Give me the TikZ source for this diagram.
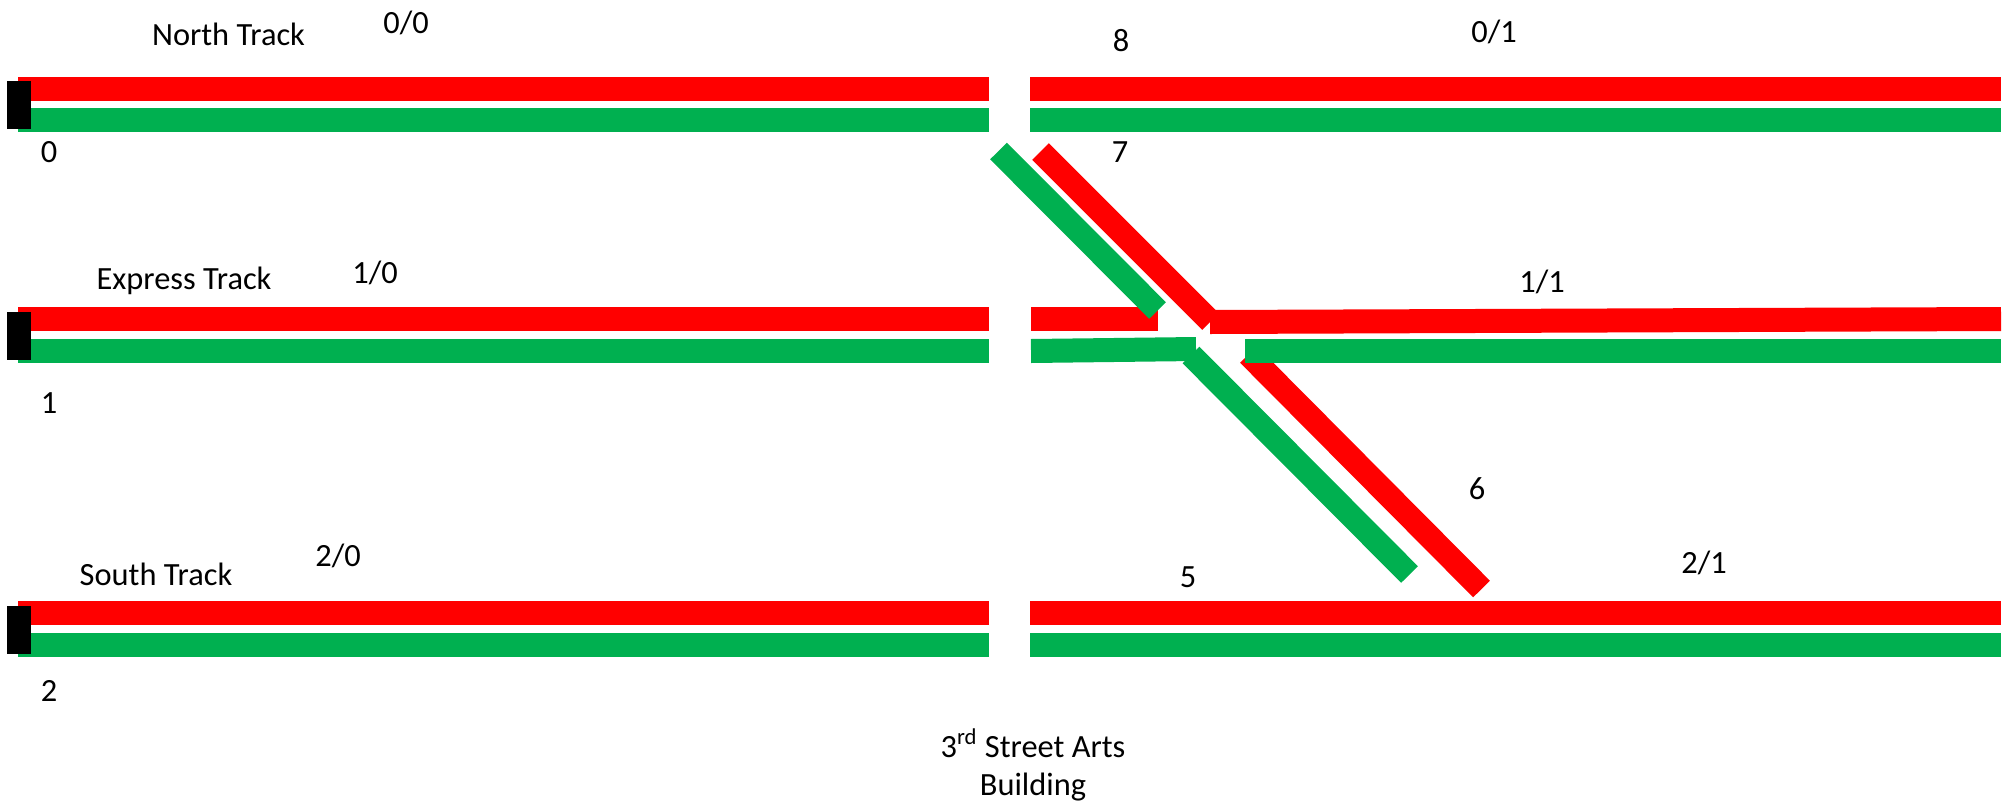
\documentclass[tikz,border=0pt]{standalone}
\usepackage{fontspec}
\setmainfont{Carlito}
\usepackage{tikz}
\usetikzlibrary{positioning}
\definecolor{trackred}{HTML}{FF0000}
\definecolor{trackgreen}{HTML}{00B050}
\tikzset{
  redrail/.style={draw=trackred, line width=12pt},
  greenrail/.style={draw=trackgreen, line width=12pt},
  diagred/.style={draw=trackred, line width=11.8pt},
  diaggreen/.style={draw=trackgreen, line width=11.8pt},
  bumper/.style={rectangle, fill=black, minimum width=12pt, minimum height=24pt, inner sep=0pt},
  tracklabel/.style={anchor=base, inner sep=0pt, font=\fontsize{16.2}{18.8}\selectfont, align=center},
}
\begin{document}
\begin{tikzpicture}[x=0.5pt, y=-0.5pt]
\useasboundingbox (0,0) rectangle (2007,809);

% Rail end points
\coordinate (nrl) at (18,88.5);  \coordinate (nrm) at (989,88.5);
\coordinate (nrn) at (1030,88.5); \coordinate (nrr) at (2001,88.5);
\coordinate (ngl) at (18,120);   \coordinate (ngm) at (989,120);
\coordinate (ngn) at (1030,120); \coordinate (ngr) at (2001,120);
\coordinate (erl) at (18,319);   \coordinate (erm) at (989,319);
\coordinate (ern) at (1031,319); \coordinate (ere) at (1158,319);
\coordinate (erx) at (1210,322); \coordinate (err) at (2001,319);
\coordinate (egl) at (18,351);   \coordinate (egm) at (989,351);
\coordinate (egn) at (1031,351); \coordinate (ege) at (1196,349);
\coordinate (egx) at (1245,351); \coordinate (egr) at (2001,351);
\coordinate (srl) at (18,613);   \coordinate (srm) at (989,613);
\coordinate (srn) at (1030,613); \coordinate (srr) at (2001,613);
\coordinate (sgl) at (18,645);   \coordinate (sgm) at (989,645);
\coordinate (sgn) at (1030,645); \coordinate (sgr) at (2001,645);

% Crossover
\coordinate (ua) at (1040.5,151.5); \coordinate (ub) at (1210.5,321.5);
\coordinate (uc) at (998.5,151);    \coordinate (ud) at (1157.5,310.5);
\coordinate (la) at (1248.5,354.5); \coordinate (lb) at (1481.5,589);
\coordinate (lc) at (1191,355);     \coordinate (ld) at (1409.5,574.5);

% Left rails
\draw[redrail] (nrl) -- (nrm);
\draw[greenrail] (ngl) -- (ngm);
\draw[redrail] (erl) -- (erm);
\draw[greenrail] (egl) -- (egm);
\draw[redrail] (srl) -- (srm);
\draw[greenrail] (sgl) -- (sgm);

% Right rails
\draw[redrail] (nrn) -- (nrr);
\draw[greenrail] (ngn) -- (ngr);
\draw[redrail] (ern) -- (ere);
\draw[redrail] (srn) -- (srr);
\draw[greenrail] (sgn) -- (sgr);

% Diagonals
\draw[diagred] (ua) -- (ub);
\draw[diaggreen] (uc) -- (ud);
\draw[diagred] (la) -- (lb);
\draw[diaggreen] (lc) -- (ld);
\draw[redrail] (erx) -- (err);
\draw[greenrail] (egn) -- (ege);
\draw[greenrail] (egx) -- (egr);

% Bumpers
\node[bumper] (bumpn) at (19,105) {};
\node[bumper] (bumpe) at (19,336) {};
\node[bumper] (bumps) at (19,630) {};

% Labels
\node[tracklabel] (north) at (228.5,45) {North Track};
\node[tracklabel] (express) at (184,289) {Express Track};
\node[tracklabel] (south) at (156,585) {South Track};
\node[tracklabel] (nzero) at (406,33) {0/0};
\node[tracklabel] (none) at (1494,42) {0/1};
\node[tracklabel] (ezero) at (375,283) {1/0};
\node[tracklabel] (eone) at (1542,292) {1/1};
\node[tracklabel] (szero) at (338,566) {2/0};
\node[tracklabel] (sone) at (1704,573) {2/1};
\node[tracklabel] (lzero) at (49,162) {0};
\node[tracklabel] (lone) at (49,413) {1};
\node[tracklabel] (ltwo) at (49,701) {2};
\node[tracklabel] (lfive) at (1188,587) {5};
\node[tracklabel] (lsix) at (1477,499) {6};
\node[tracklabel] (lseven) at (1120,162) {7};
\node[tracklabel] (leight) at (1121,51) {8};
\node[tracklabel] (arts) at (1033,795) {3\textsuperscript{rd} Street Arts\\Building};

\end{tikzpicture}
\end{document}
